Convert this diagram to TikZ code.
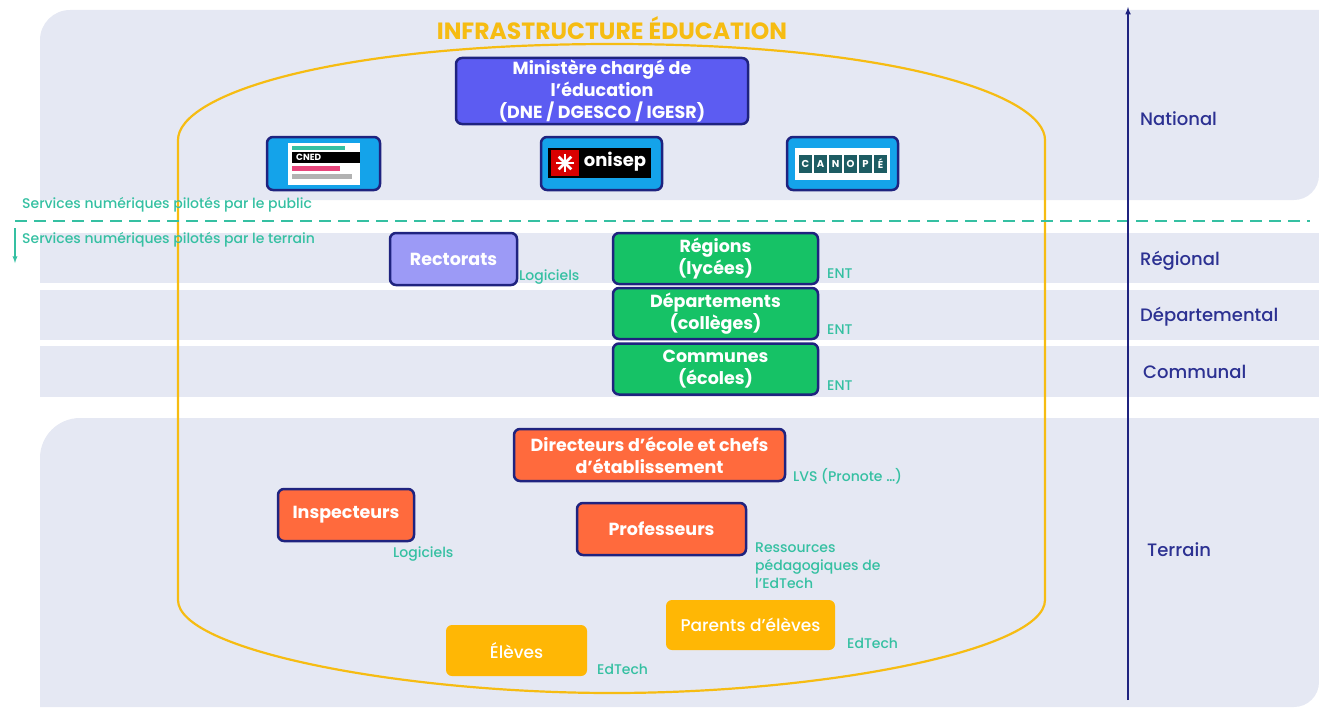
\documentclass[tikz,border=0pt]{standalone}
\usepackage{fontspec}
\setmainfont{Poppins}
\newfontfamily\medfont{Poppins Medium}
\definecolor{bandgrey}{HTML}{E5E8F3}
\definecolor{navy}{HTML}{1F237F}
\definecolor{levelblue}{HTML}{2C3192}
\definecolor{teal}{HTML}{35C0A2}
\definecolor{gold}{HTML}{F6BC12}
\definecolor{minblue}{HTML}{5C5CF2}
\definecolor{logoblue}{HTML}{14A3EA}
\definecolor{lilac}{HTML}{9C9AF6}
\definecolor{green}{HTML}{16C266}
\definecolor{orange}{HTML}{FF6A3D}
\definecolor{amber}{HTML}{FFB705}
\definecolor{canteal}{HTML}{1D5C63}
\definecolor{pink}{HTML}{E8467C}
\begin{document}
\begin{tikzpicture}[x=1pt, y=-1pt,
    band/.style={fill=bandgrey},
    box/.style={draw=navy, line width=2.5pt, rounded corners=6pt, text=white, align=center,
        inner sep=0pt, font=\bfseries\fontsize{17.5}{22}\selectfont},
    parent/.style={fill=amber, rounded corners=6pt, text=white, align=center,
        inner sep=0pt, font=\medfont\fontsize{17}{20}\selectfont},
    tag/.style={text=teal, anchor=base west, inner sep=0pt, font=\medfont\fontsize{14}{18}\selectfont},
    level/.style={text=levelblue, anchor=west, inner sep=0pt, font=\medfont\fontsize{18}{20}\selectfont}]
    \useasboundingbox (0,0) rectangle (1319,709);

    % bands
    \fill[band] (40,200) [rounded corners=30pt] -- (40,10) [sharp corners] -- (1319,10)
        [rounded corners=25pt] -- (1319,200) [sharp corners] -- cycle;
    \fill[band] (40,233) rectangle (1319,283);
    \fill[band] (40,290) rectangle (1319,340);
    \fill[band] (40,346) rectangle (1319,397);
    \fill[band] (40,707) [rounded corners=40pt] -- (40,418) [sharp corners] -- (1319,418)
        [rounded corners=25pt] -- (1319,707) [sharp corners] -- cycle;

    % infrastructure
    \draw[gold, line width=2.2pt] (178,600) -- (178,140)
        .. controls (178,95) and (330,44) .. (612,44)
        .. controls (894,44) and (1045,95) .. (1045,140) -- (1045,600)
        .. controls (1045,650) and (824,693) .. (612,693)
        .. controls (400,693) and (178,650) .. (178,600) -- cycle;
    \node[text=gold, font=\bfseries\fontsize{23.5}{26}\selectfont] (title) at (612,28) {INFRASTRUCTURE ÉDUCATION};

    % public / terrain
    \coordinate (dashL) at (15,221);
    \coordinate (dashR) at (1310,221);
    \draw[teal, line width=1.5pt, dash pattern=on 12pt off 7pt] (dashL) -- (dashR);
    \coordinate (downA) at (15,228);
    \coordinate (downB) at (15,263);
    \draw[teal, line width=1.3pt, ->, >=latex] (downA) -- (downB);
    \node[tag] (public) at (22,208) {Services numériques pilotés par le public};
    \node[tag] (terrain) at (22,243) {Services numériques pilotés par le terrain};

    % levels
    \coordinate (axisB) at (1128,700);
    \coordinate (axisT) at (1128,7);
    \draw[navy, line width=1.5pt, ->, >=latex] (axisB) -- (axisT);
    \node[level] (national) at (1140,119) {National};
    \node[level] (regional) at (1140,261) {Régional};
    \node[level] (departemental) at (1140,317) {Départemental};
    \node[level] (communal) at (1143,372) {Communal};
    \node[level] (terrainlvl) at (1147,550) {Terrain};

    % national
    \node[box, fill=minblue, minimum width=292pt, minimum height=66pt] (ministere) at (602,91)
        {Ministère chargé de\\l’éducation\\(DNE / DGESCO / IGESR)};
    \node[box, fill=logoblue, minimum width=113pt, minimum height=53pt] (cned) at (323.5,163.5) {};
    \node[box, fill=logoblue, minimum width=121pt, minimum height=53pt] (onisep) at (601.5,163.5) {};
    \node[box, fill=logoblue, minimum width=111pt, minimum height=53pt] (canope) at (842.5,163.5) {};

    % logos
    \fill[white] (288,143) rectangle (360,185);
    \fill[teal] (292,146) rectangle (345,150);
    \fill[black] (292,152) rectangle (360,163);
    \node[text=white, font=\bfseries\fontsize{9}{10}\selectfont, anchor=west, inner sep=0pt] (cnedtxt) at (296,157.5) {CNED};
    \fill[pink] (292,166) rectangle (340,171);
    \fill[gray!60] (292,174) rectangle (352,179);
    \fill[black] (548,148) rectangle (651,178);
    \fill[red!85!black] (551,150) rectangle (579,176);
    \foreach \a in {0,45,90,135}
        \draw[white, line width=2.5pt] ([shift={(\a:9pt)}]565,163) -- ([shift={(\a+180:9pt)}]565,163);
    \node[text=white, font=\bfseries\fontsize{18}{20}\selectfont, inner sep=0pt] (onisept) at (615,162) {onisep};
    \fill[white] (795,148) rectangle (890,180);
    \foreach \l [count=\i from 0] in {C,A,N,O,P,É} {
        \fill[canteal] (799+15*\i,155) rectangle (812+15*\i,173);
        \node[text=white, font=\bfseries\fontsize{10}{11}\selectfont, inner sep=0pt] at (805.5+15*\i,164) {\l};
    }

    % regional
    \node[box, fill=lilac, minimum width=127pt, minimum height=52pt] (rectorats) at (453.5,259) {Rectorats};
    \node[tag] (logrect) at (519,280) {Logiciels};
    \node[box, fill=green, minimum width=205pt, minimum height=51pt] (regions) at (715.5,258.5) {Régions\\(lycées)};
    \node[box, fill=green, minimum width=205pt, minimum height=51pt] (departements) at (715.5,313.5) {Départements\\(collèges)};
    \node[box, fill=green, minimum width=205pt, minimum height=51pt] (communes) at (715.5,369) {Communes\\(écoles)};
    \node[tag] (entreg) at (827,278) {ENT};
    \node[tag] (entdep) at (827,334) {ENT};
    \node[tag] (entcom) at (827,390) {ENT};

    % terrain
    \node[box, fill=orange, minimum width=271pt, minimum height=52pt] (directeurs) at (649.5,455)
        {Directeurs d’école et chefs\\d’établissement};
    \node[tag] (lvs) at (793,481) {LVS (Pronote …)};
    \node[box, fill=orange, minimum width=136pt, minimum height=52pt] (inspecteurs) at (346,515) {Inspecteurs};
    \node[tag] (logins) at (393,557) {Logiciels};
    \node[box, fill=orange, minimum width=169pt, minimum height=52pt] (professeurs) at (661.5,529) {Professeurs};
    \node[tag, anchor=north west, align=left] (ressources) at (755,543)
        {Ressources\\pédagogiques de\\l’EdTech};
    \node[parent, minimum width=169pt, minimum height=50pt] (parents) at (750.5,625) {Parents d’élèves};
    \node[tag] (edparents) at (847,648) {EdTech};
    \node[parent, minimum width=141pt, minimum height=51pt] (eleves) at (516.5,650.5) {Élèves};
    \node[tag] (edeleves) at (597,674) {EdTech};
\end{tikzpicture}
\end{document}
